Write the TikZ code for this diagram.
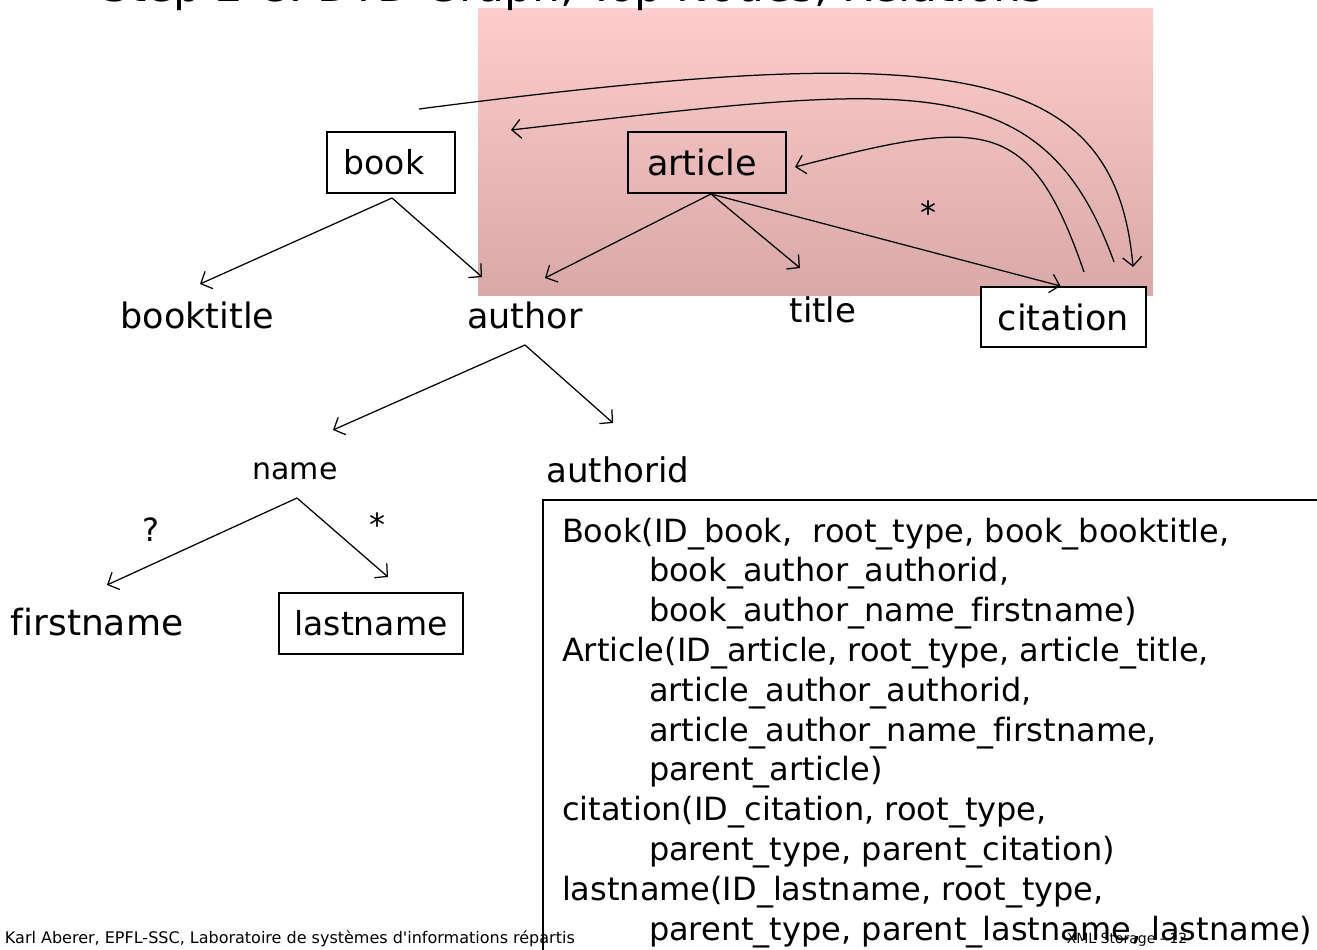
\documentclass[tikz,border=0pt]{standalone}
\usepackage{fontspec}
\setmainfont{DejaVu Sans}[Ligatures={TeX,NoCommon}]
\usetikzlibrary{arrows.meta,calc}

\definecolor{pinktop}{RGB}{253,204,204}
\definecolor{pinkbot}{RGB}{217,169,169}

\begin{document}
\begin{tikzpicture}[x=1pt,y=-1pt,
  every node/.style={inner sep=0pt, outer sep=0pt},
  lbl/.style={font=\fontsize{35}{40}\selectfont, anchor=base},
  elem/.style={draw, line width=1.3pt, font=\fontsize{35}{40}\selectfont},
  edge/.style={line width=1.25pt, -{Straight Barb[length=9pt,width=19pt]}},
  relline/.style={font=\fontsize{32}{40}\selectfont, anchor=base west},
  mult/.style={font=\fontsize{32}{36}\selectfont}
]
\useasboundingbox (0,0) rectangle (1317,950);

% highlighted region of the graph
\shade[top color=pinktop, bottom color=pinkbot] (478,9) rectangle (1153,295);

% heading (partly above the page)
\node[font=\fontsize{44}{50}\selectfont, anchor=base] (heading) at (573,1.5)
  {Step 2 C: DTD Graph, Top Nodes, Relations};

% element nodes
\node[elem, fill=white, minimum width=128pt, minimum height=61pt, font=\fontsize{33}{40}\selectfont] (book) at (391,162.5) {book\hspace*{14pt}};
\node[elem, minimum width=158pt, minimum height=61pt] (article) at (707,162.5) {article\hspace*{10pt}};
\node[elem, fill=white, minimum width=165pt, minimum height=60pt] (citation) at (1063.5,317) {citation};
\node[elem, fill=white, minimum width=184pt, minimum height=61pt, font=\fontsize{33}{40}\selectfont] (lastname) at (371,623.5) {lastname};

\node[lbl] (booktitle) at (197.5,328) {booktitle};
\node[lbl] (author) at (525,328) {author};
\node[lbl, font=\fontsize{34}{40}\selectfont] (title) at (823,322) {title};
\node[lbl, font=\fontsize{30}{40}\selectfont] (name) at (295,479) {name};
\node[lbl, font=\fontsize{34}{40}\selectfont] (authorid) at (618,482) {authorid};
\node[lbl, font=\fontsize{36}{40}\selectfont] (firstname) at (97,635) {firstname};

% multiplicities
\node[mult] (mcite) at (928,213) {*};
\node[mult] (mfirst) at (151,530) {?};
\node[mult] (mlast) at (377,525) {*};

% tree edges
\draw[edge] ($(book.south)+(1,5)$) -- ($(booktitle.base)+(2.5,-44)$);
\draw[edge] ($(book.south)+(1,5)$) -- ($(author.base)+(-43,-51)$);
\draw[edge] ($(article.south)+(4,1)$) -- ($(author.base)+(20,-50)$);
\draw[edge] ($(article.south)+(4,1)$) -- ($(title.base)+(-23,-54)$);
\draw[edge] ($(article.south)+(4,1)$) -- ($(citation.north)+(-3,-1)$);
\draw[edge] ($(author.base)+(0,17)$) -- ($(name.base)+(38,-49)$);
\draw[edge] ($(author.base)+(0,17)$) -- ($(authorid.base)+(-5,-59)$);
\draw[edge] ($(name.base)+(2,19)$) -- ($(firstname.base)+(10,-50)$);
\draw[edge] ($(name.base)+(2,19)$) -- ($(lastname.north)+(17,-16)$);

% recursive relations
\coordinate (citeback) at (511,130);
\draw[edge] ($(book.north)+(28,-23)$) .. controls (950,40) and (1115,60) .. ($(citation.north)+(69.5,-20)$);
\draw[edge] ($(citation.north)+(50.5,-25)$) .. controls (1042,62) and (910,84) .. (citeback);
\draw[edge] ($(citation.north)+(20.5,-15)$) .. controls (1030,115) and (985,118) .. ($(article.east)+(9,4.5)$);

% relational schema
\draw[line width=1.2pt] (1330,500) -- (543,500) -- (543,960);
\node[relline] (r1) at (562,542) {Book(ID\_book,\ \ root\_type, book\_booktitle,};
\node[relline] (r2) at (649,581.8) {book\_author\_authorid,};
\node[relline] (r3) at (649,621.6) {book\_author\_name\_firstname)};
\node[relline] (r4) at (562,661.4) {Article(ID\_article, root\_type, article\_title,};
\node[relline] (r5) at (649,701.2) {article\_author\_authorid,};
\node[relline] (r6) at (649,741) {article\_author\_name\_firstname,};
\node[relline] (r7) at (649,780.8) {parent\_article)};
\node[relline] (r8) at (562,820.6) {citation(ID\_citation, root\_type,};
\node[relline] (r9) at (649,860.4) {parent\_type, parent\_citation)};
\node[relline] (r10) at (562,900.2) {lastname(ID\_lastname, root\_type,};
\node[relline] (r11) at (649,940) {parent\_type, parent\_lastname, lastname)};

% footer
\node[anchor=base west, font=\fontsize{16}{18}\selectfont] (footer) at (5,943)
  {Karl Aberer, EPFL-SSC, Laboratoire de systèmes d\textquotesingle informations répartis};
\node[anchor=base, font=\fontsize{14}{16}\selectfont] (pageno) at (1127,943) {XML Storage - 12};
\end{tikzpicture}
\end{document}
